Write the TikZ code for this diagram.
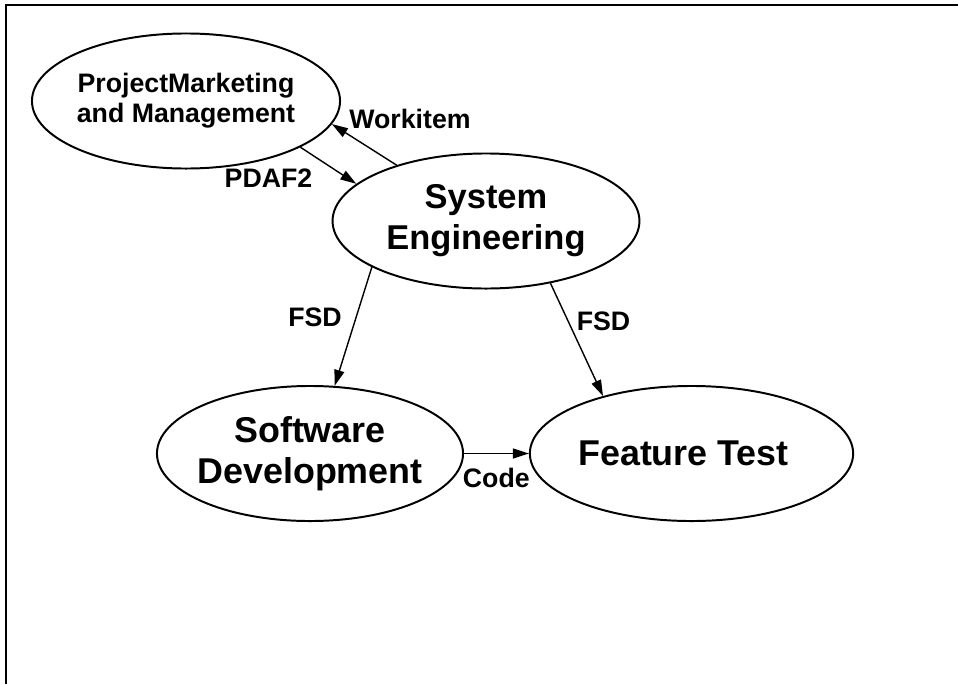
\documentclass[tikz,border=0pt]{standalone}
\usepackage{fontspec}
\setmainfont{Liberation Sans}
\usetikzlibrary{arrows.meta,shapes.geometric}

\begin{document}
\begin{tikzpicture}[x=0.025cm,y=-0.025cm,
    etat/.style={ellipse,draw,line width=1.4pt,minimum height=3.375cm,inner xsep=-1cm,inner ysep=0pt,align=center,font=\fontsize{24.5}{29}\selectfont\bfseries},
    bas/.style={font=\fontsize{25.5}{29}\selectfont\bfseries},
    flux/.style={-{Triangle[length=0.4cm,width=0.25cm]},line width=1pt},
    etiq/.style={inner sep=0pt,font=\fontsize{19}{21.5}\selectfont\bfseries}]
    \useasboundingbox (0,0) rectangle (958,684);

    % Cadre
    \draw[line width=1.5pt] (6,684) -- (6,5) -- (958,5);

    % Ellipses
    \node[etat,minimum width=7.7cm,font=\fontsize{19}{21.5}\selectfont\bfseries] (PM) at (186,101) {ProjectMarketing\\and Management};
    \node[etat,minimum width=7.67cm] (SE) at (486,221) {System\\Engineering};
    \node[etat,bas,minimum width=7.65cm] (SD) at (310,453.5) {Software\\Development};
    \node[etat,bas,minimum width=8.08cm] (FT) at (691.5,453.5) {Feature Test\hspace*{0.4cm}};

    % Fleches
    \draw[flux] (SE.148.3) -- (PM.351.9);
    \draw[flux] (PM.338.4) -- (SE.164.2);
    \draw[flux] (SE.202.4) -- (SD.70.7);
    \draw[flux] (SE.316.4) -- (FT.147.6);
    \draw[flux] (SD.east) -- (FT.west);

    % Etiquettes
    \node[etiq] (wi) at (410,119) {Workitem};
    \node[etiq] (pdaf) at (268.5,178) {PDAF2};
    \node[etiq] (fsd1) at (315,317.5) {FSD};
    \node[etiq] (fsd2) at (603.5,321) {FSD};
    \node[etiq] (code) at (496.3,477.5) {Code};
\end{tikzpicture}
\end{document}
